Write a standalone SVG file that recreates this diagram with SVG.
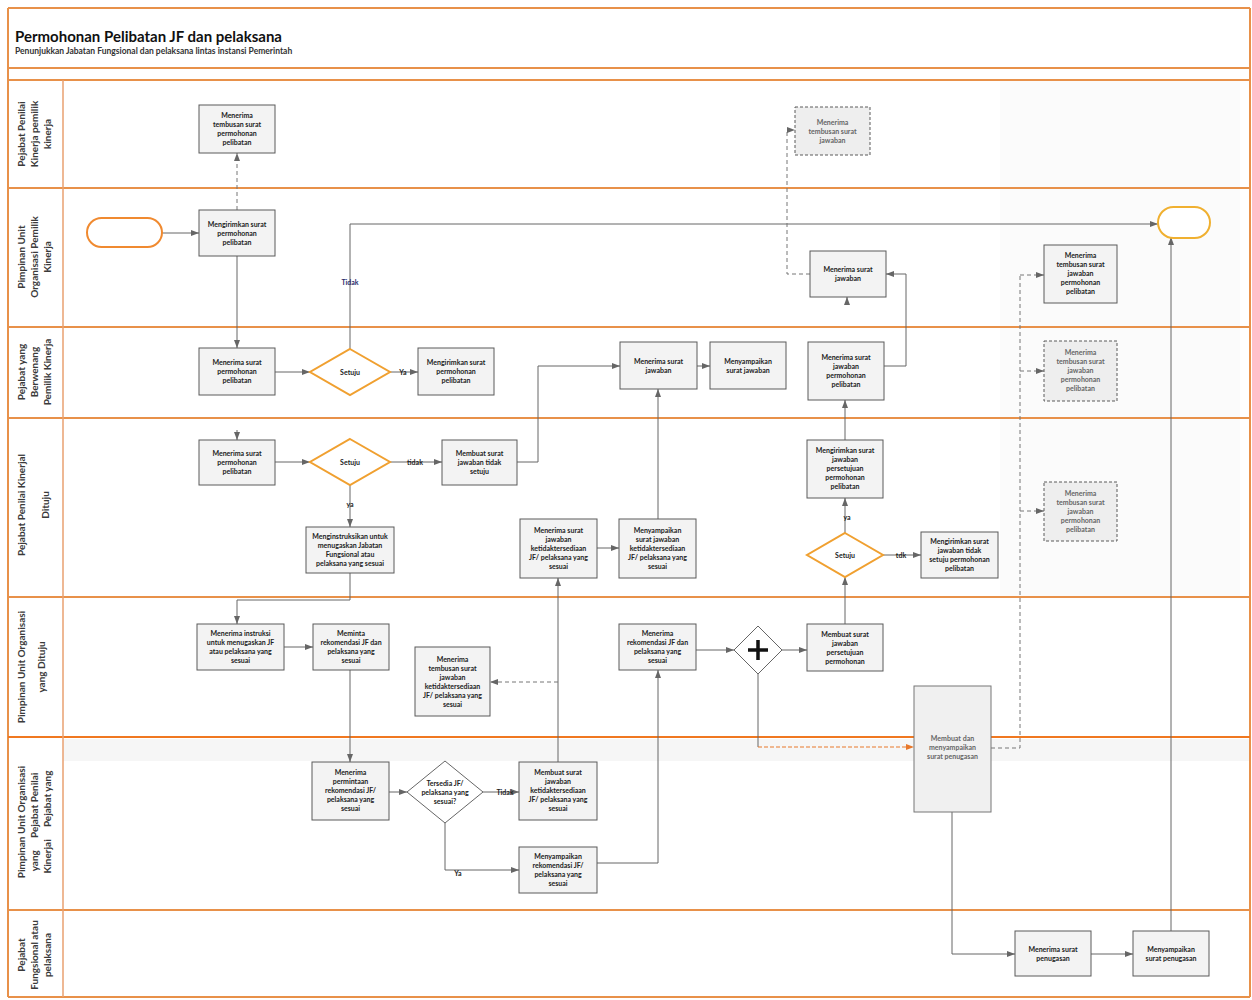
<svg xmlns="http://www.w3.org/2000/svg" width="1252" height="1000" viewBox="0 0 1252 1000">
<defs>
<marker id="arr" markerWidth="8" markerHeight="6" refX="8" refY="3" orient="auto" markerUnits="userSpaceOnUse"><path d="M0,0 L8,3 L0,6 z" fill="#666"/></marker>
<marker id="arrO" markerWidth="8" markerHeight="6" refX="8" refY="3" orient="auto" markerUnits="userSpaceOnUse"><path d="M0,0 L8,3 L0,6 z" fill="#E8782A"/></marker>
<style>
.lane{stroke:#E8914A;stroke-width:2;fill:none}
.lbl{font-family:Lato,"Liberation Sans",sans-serif;font-size:10px;font-weight:bold;fill:#3a3a3a;text-anchor:middle}
.box{fill:#f3f3f3;stroke:#5a5a5a;stroke-width:1}
.dbox{fill:#eeeeee;stroke:#5a5a5a;stroke-width:1;stroke-dasharray:3,2}
.t{font-family:Lato,"Liberation Sans",sans-serif;font-size:7px;font-weight:bold;fill:#222;text-anchor:middle}
.tl{font-family:Lato,"Liberation Sans",sans-serif;font-size:7px;font-weight:bold;fill:#666;text-anchor:middle}
.dia{fill:#fff;stroke:#F0A030;stroke-width:2}
.c{fill:none;stroke:#666;stroke-width:1;marker-end:url(#arr)}
.cn{fill:none;stroke:#666;stroke-width:1}
.cd{fill:none;stroke:#777;stroke-width:1;stroke-dasharray:4,3;marker-end:url(#arr)}
.cdn{fill:none;stroke:#777;stroke-width:1;stroke-dasharray:4,3}
.el{font-family:Lato,"Liberation Sans",sans-serif;font-size:7px;font-weight:bold;fill:#222;text-anchor:middle}
</style>
</defs>
<rect x="0" y="0" width="1252" height="1000" fill="#fff"/>
<rect x="1000" y="80" width="240" height="517" fill="#fbfbfb"/>
<rect x="63" y="739" width="1187" height="22" fill="#f6f6f6"/>

<g id="frame">
<line class="lane" x1="8" y1="8" x2="1250" y2="8"/>
<line class="lane" x1="8" y1="8" x2="8" y2="997"/>
<line class="lane" x1="1250" y1="8" x2="1250" y2="997"/>
<line class="lane" x1="8" y1="68" x2="1250" y2="68"/>
<line class="lane" x1="8" y1="80" x2="1250" y2="80"/>
<line class="lane" x1="8" y1="188" x2="1250" y2="188"/>
<line class="lane" x1="8" y1="327" x2="1250" y2="327"/>
<line class="lane" x1="8" y1="418" x2="1250" y2="418"/>
<line class="lane" x1="8" y1="597" x2="1250" y2="597"/>
<line x1="8" y1="737" x2="1250" y2="737" stroke="#F07820" stroke-width="2"/>
<line class="lane" x1="8" y1="910" x2="1250" y2="910"/>
<line class="lane" x1="8" y1="997" x2="1250" y2="997"/>
<line x1="63" y1="80" x2="63" y2="997" stroke="#E8A070" stroke-width="1.5"/>
<text x="15" y="42" font-family="Lato,'Liberation Sans',sans-serif" font-size="15" font-weight="bold" fill="#111">Permohonan Pelibatan JF dan pelaksana</text>
<text x="15" y="54" font-family="Lato,'Liberation Sans',sans-serif" font-size="8.5" font-weight="bold" fill="#333">Penunjukkan Jabatan Fungsional dan pelaksana lintas instansi Pemerintah</text>
</g>

<g id="lane-labels">
<text class="lbl" transform="translate(35,134) rotate(-90)"><tspan x="0" y="-10">Pejabat Penilai</tspan><tspan x="0" y="3">Kinerja pemilik</tspan><tspan x="0" y="16">kinerja</tspan></text>
<text class="lbl" transform="translate(35,257) rotate(-90)"><tspan x="0" y="-10">Pimpinan Unit</tspan><tspan x="0" y="3">Organisasi Pemilik</tspan><tspan x="0" y="16">Kinerja</tspan></text>
<text class="lbl" transform="translate(35,372) rotate(-90)"><tspan x="0" y="-10">Pejabat yang</tspan><tspan x="0" y="3">Berwenang</tspan><tspan x="0" y="16">Pemilik Kinerja</tspan></text>
<text class="lbl" transform="translate(35,505) rotate(-90)"><tspan x="0" y="-10">Pejabat Penilai Kinerjal</tspan><tspan x="0" y="14">Dituju</tspan></text>
<text class="lbl" transform="translate(35,667) rotate(-90)"><tspan x="0" y="-10">Pimpinan Unit Organisasi</tspan><tspan x="0" y="10">yang Dituju</tspan></text>
<text class="lbl" transform="translate(35,822) rotate(-90)"><tspan x="0" y="-10">Pimpinan Unit Organisasi</tspan><tspan x="0" y="3">yang&#160;&#160;&#160;&#160;&#160;Pejabat Penilai</tspan><tspan x="0" y="16">Kinerjai&#160;&#160;&#160;&#160;&#160;Pejabat yang</tspan></text>
<text class="lbl" transform="translate(35,955) rotate(-90)"><tspan x="0" y="-10">Pejabat</tspan><tspan x="0" y="3">Fungsional atau</tspan><tspan x="0" y="16">pelaksana</tspan></text>
</g>

<g id="connectors">
<path class="c" d="M162,233 H199"/>
<path class="cd" d="M237,210 V153"/>
<path class="c" d="M237,256 V348"/>
<path class="c" d="M275,372 H310"/>
<path class="c" d="M390,372 H418"/>
<path class="c" d="M350,349 V224 H1158"/>
<path class="c" d="M237,430 V440"/>
<path class="c" d="M275,462 H310"/>
<path class="c" d="M390,462 H442"/>
<path class="c" d="M350,485 V527"/>
<path class="c" d="M517,462 H538 V366 H620"/>
<path class="c" d="M697,366 H710"/>
<path class="c" d="M658,519 V389"/>
<path class="c" d="M350,573 V600 H237 V624"/>
<path class="c" d="M284,647 H313"/>
<path class="c" d="M350,670 V762"/>
<path class="c" d="M389,792 H407"/>
<path class="c" d="M483,792 H519"/>
<path class="c" d="M445,823 V870 H519"/>
<path class="c" d="M558,762 V578"/>
<path class="cd" d="M558,682 H490"/>
<path class="c" d="M597,548 H619"/>
<path class="c" d="M597,863 H658 V670"/>
<path class="c" d="M696,650 H734"/>
<path class="c" d="M782,650 H807"/>
<path class="cn" d="M758,674 V747"/>
<path d="M758,747 H914" fill="none" stroke="#E8782A" stroke-width="1" stroke-dasharray="4,2" marker-end="url(#arrO)"/>
<path class="c" d="M845,624 V577"/>
<path class="c" d="M845,533 V498"/>
<path class="c" d="M883,555 H921"/>
<path class="c" d="M845,440 V400"/>
<path class="c" d="M884,366 H906 V274 H886"/>
<path class="c" d="M847,305 V297"/>
<path class="cd" d="M810,274 H787 V130 H795"/>
<path class="cdn" d="M991,748 H1020 V275"/>
<path class="cd" d="M1020,275 H1044"/>
<path class="cd" d="M1020,371 H1044"/>
<path class="cd" d="M1020,511 H1044"/>
<path class="c" d="M952,812 V954 H1015"/>
<path class="c" d="M1091,954 H1133"/>
<path class="c" d="M1171,931 V237"/>
<text x="350" y="285" font-family="Lato,'Liberation Sans',sans-serif" font-size="7" font-weight="bold" fill="#2a2a6a" text-anchor="middle">Tidak</text>
<text class="el" x="403" y="375">Ya</text>
<text class="el" x="415" y="465">tidak</text>
<text class="el" x="350" y="507">ya</text>
<text class="el" x="505" y="795">Tidak</text>
<text class="el" x="458" y="876">Ya</text>
<text class="el" x="847" y="520">ya</text>
<text class="el" x="901" y="558">tdk</text>
</g>

<g id="start"><rect x="87" y="218" width="75" height="29" rx="14.5" fill="#fff" stroke="#F08A30" stroke-width="2"/></g>
<g id="end"><rect x="1158" y="207" width="52" height="31" rx="15.5" fill="#fff" stroke="#F0B030" stroke-width="2"/></g>

<g id="A1"><rect class="box" x="199" y="105" width="76" height="48"/><text class="t"><tspan x="237" y="118">Menerima</tspan><tspan x="237" y="127">tembusan surat</tspan><tspan x="237" y="136">permohonan</tspan><tspan x="237" y="145">pelibatan</tspan></text></g>
<g id="A2"><rect class="dbox" x="795" y="107" width="75" height="48"/><text class="tl"><tspan x="832.5" y="124.5">Menerima</tspan><tspan x="832.5" y="133.5">tembusan surat</tspan><tspan x="832.5" y="142.5">jawaban</tspan></text></g>
<g id="B1"><rect class="box" x="199" y="210" width="76" height="46"/><text class="t"><tspan x="237" y="226.5">Mengirimkan surat</tspan><tspan x="237" y="235.5">permohonan</tspan><tspan x="237" y="244.5">pelibatan</tspan></text></g>
<g id="B2"><rect class="box" x="810" y="251" width="76" height="46"/><text class="t"><tspan x="848" y="272">Menerima surat</tspan><tspan x="848" y="281">jawaban</tspan></text></g>
<g id="B3"><rect class="box" x="1044" y="245" width="73" height="58"/><text class="t"><tspan x="1080.5" y="258">Menerima</tspan><tspan x="1080.5" y="267">tembusan surat</tspan><tspan x="1080.5" y="276">jawaban</tspan><tspan x="1080.5" y="285">permohonan</tspan><tspan x="1080.5" y="294">pelibatan</tspan></text></g>
<g id="C1"><rect class="box" x="199" y="348" width="76" height="47"/><text class="t"><tspan x="237" y="365">Menerima surat</tspan><tspan x="237" y="374">permohonan</tspan><tspan x="237" y="383">pelibatan</tspan></text></g>
<g id="D1"><polygon class="dia" points="350,349 390,372 350,395 310,372"/><text class="t" x="350" y="375">Setuju</text></g>
<g id="C2"><rect class="box" x="418" y="348" width="76" height="47"/><text class="t"><tspan x="456" y="365">Mengirimkan surat</tspan><tspan x="456" y="374">permohonan</tspan><tspan x="456" y="383">pelibatan</tspan></text></g>
<g id="C3"><rect class="box" x="620" y="342" width="77" height="47"/><text class="t"><tspan x="658.5" y="363.5">Menerima surat</tspan><tspan x="658.5" y="372.5">jawaban</tspan></text></g>
<g id="C4"><rect class="box" x="710" y="342" width="76" height="47"/><text class="t"><tspan x="748" y="363.5">Menyampaikan</tspan><tspan x="748" y="372.5">surat jawaban</tspan></text></g>
<g id="C5"><rect class="box" x="808" y="342" width="76" height="58"/><text class="t"><tspan x="846" y="360">Menerima surat</tspan><tspan x="846" y="369">jawaban</tspan><tspan x="846" y="378">permohonan</tspan><tspan x="846" y="387">pelibatan</tspan></text></g>
<g id="C6"><rect class="dbox" x="1044" y="341" width="73" height="60"/><text class="tl"><tspan x="1080.5" y="355">Menerima</tspan><tspan x="1080.5" y="364">tembusan surat</tspan><tspan x="1080.5" y="373">jawaban</tspan><tspan x="1080.5" y="382">permohonan</tspan><tspan x="1080.5" y="391">pelibatan</tspan></text></g>
<g id="E1"><rect class="box" x="199" y="440" width="76" height="45"/><text class="t"><tspan x="237" y="456">Menerima surat</tspan><tspan x="237" y="465">permohonan</tspan><tspan x="237" y="474">pelibatan</tspan></text></g>
<g id="D2"><polygon class="dia" points="350,439 390,462 350,485 310,462"/><text class="t" x="350" y="465">Setuju</text></g>
<g id="E2"><rect class="box" x="442" y="440" width="75" height="45"/><text class="t"><tspan x="479.5" y="456">Membuat surat</tspan><tspan x="479.5" y="465">jawaban tidak</tspan><tspan x="479.5" y="474">setuju</tspan></text></g>
<g id="E3"><rect class="box" x="306" y="527" width="88" height="46"/><text class="t"><tspan x="350" y="539">Menginstruksikan untuk</tspan><tspan x="350" y="548">menugaskan Jabatan</tspan><tspan x="350" y="557">Fungsional atau</tspan><tspan x="350" y="566">pelaksana yang sesuai</tspan></text></g>
<g id="E4"><rect class="box" x="520" y="519" width="77" height="59"/><text class="t"><tspan x="558.5" y="532.5">Menerima surat</tspan><tspan x="558.5" y="541.5">jawaban</tspan><tspan x="558.5" y="550.5">ketidaktersediaan</tspan><tspan x="558.5" y="559.5">JF/ pelaksana yang</tspan><tspan x="558.5" y="568.5">sesuai</tspan></text></g>
<g id="E5"><rect class="box" x="619" y="519" width="77" height="59"/><text class="t"><tspan x="657.5" y="532.5">Menyampaikan</tspan><tspan x="657.5" y="541.5">surat jawaban</tspan><tspan x="657.5" y="550.5">ketidaktersediaan</tspan><tspan x="657.5" y="559.5">JF/ pelaksana yang</tspan><tspan x="657.5" y="568.5">sesuai</tspan></text></g>
<g id="E6"><rect class="box" x="807" y="440" width="76" height="58"/><text class="t"><tspan x="845" y="453">Mengirimkan surat</tspan><tspan x="845" y="462">jawaban</tspan><tspan x="845" y="471">persetujuan</tspan><tspan x="845" y="480">permohonan</tspan><tspan x="845" y="489">pelibatan</tspan></text></g>
<g id="D3"><polygon class="dia" points="845,533 883,555 845,577 807,555"/><text class="t" x="845" y="558">Setuju</text></g>
<g id="E7"><rect class="box" x="921" y="532" width="77" height="46"/><text class="t"><tspan x="959.5" y="544">Mengirimkan surat</tspan><tspan x="959.5" y="553">jawaban tidak</tspan><tspan x="959.5" y="562">setuju permohonan</tspan><tspan x="959.5" y="571">pelibatan</tspan></text></g>
<g id="E8"><rect class="dbox" x="1044" y="482" width="73" height="59"/><text class="tl"><tspan x="1080.5" y="495.5">Menerima</tspan><tspan x="1080.5" y="504.5">tembusan surat</tspan><tspan x="1080.5" y="513.5">jawaban</tspan><tspan x="1080.5" y="522.5">permohonan</tspan><tspan x="1080.5" y="531.5">pelibatan</tspan></text></g>
<g id="F1"><rect class="box" x="197" y="624" width="87" height="46"/><text class="t"><tspan x="240.5" y="636">Menerima instruksi</tspan><tspan x="240.5" y="645">untuk menugaskan JF</tspan><tspan x="240.5" y="654">atau pelaksana yang</tspan><tspan x="240.5" y="663">sesuai</tspan></text></g>
<g id="F2"><rect class="box" x="313" y="624" width="76" height="46"/><text class="t"><tspan x="351" y="636">Meminta</tspan><tspan x="351" y="645">rekomendasi JF dan</tspan><tspan x="351" y="654">pelaksana yang</tspan><tspan x="351" y="663">sesuai</tspan></text></g>
<g id="F3"><rect class="box" x="415" y="647" width="75" height="69"/><text class="t"><tspan x="452.5" y="661.5">Menerima</tspan><tspan x="452.5" y="670.5">tembusan surat</tspan><tspan x="452.5" y="679.5">jawaban</tspan><tspan x="452.5" y="688.5">ketidaktersediaan</tspan><tspan x="452.5" y="697.5">JF/ pelaksana yang</tspan><tspan x="452.5" y="706.5">sesuai</tspan></text></g>
<g id="F4"><rect class="box" x="619" y="624" width="77" height="46"/><text class="t"><tspan x="657.5" y="636">Menerima</tspan><tspan x="657.5" y="645">rekomendasi JF dan</tspan><tspan x="657.5" y="654">pelaksana yang</tspan><tspan x="657.5" y="663">sesuai</tspan></text></g>
<g id="G1"><polygon points="758,626 782,650 758,674 734,650" fill="#fff" stroke="#666" stroke-width="1"/><path d="M758,640 V660 M748,650 H768" stroke="#111" stroke-width="3.5"/></g>
<g id="F5"><rect class="box" x="807" y="624" width="76" height="47"/><text class="t"><tspan x="845" y="636.5">Membuat surat</tspan><tspan x="845" y="645.5">jawaban</tspan><tspan x="845" y="654.5">persetujuan</tspan><tspan x="845" y="663.5">permohonan</tspan></text></g>
<g id="F6"><rect x="914" y="686" width="77" height="126" fill="#f0f0f0" stroke="#777" stroke-width="1"/><text class="tl"><tspan x="952.5" y="741">Membuat dan</tspan><tspan x="952.5" y="750">menyampaikan</tspan><tspan x="952.5" y="759">surat penugasan</tspan></text></g>
<g id="H1"><rect class="box" x="312" y="762" width="77" height="58"/><text class="t"><tspan x="350.5" y="775">Menerima</tspan><tspan x="350.5" y="784">permintaan</tspan><tspan x="350.5" y="793">rekomendasi JF/</tspan><tspan x="350.5" y="802">pelaksana yang</tspan><tspan x="350.5" y="811">sesuai</tspan></text></g>
<g id="D4"><polygon points="445,761 483,792 445,823 407,792" fill="#fff" stroke="#666" stroke-width="1"/><text class="t"><tspan x="445" y="785.5">Tersedia JF/</tspan><tspan x="445" y="794.5">pelaksana yang</tspan><tspan x="445" y="803.5">sesuai?</tspan></text></g>
<g id="H2"><rect class="box" x="519" y="762" width="78" height="58"/><text class="t"><tspan x="558" y="775">Membuat surat</tspan><tspan x="558" y="784">jawaban</tspan><tspan x="558" y="793">ketidaktersediaan</tspan><tspan x="558" y="802">JF/ pelaksana yang</tspan><tspan x="558" y="811">sesuai</tspan></text></g>
<g id="H3"><rect class="box" x="519" y="847" width="78" height="46"/><text class="t"><tspan x="558" y="859">Menyampaikan</tspan><tspan x="558" y="868">rekomendasi JF/</tspan><tspan x="558" y="877">pelaksana yang</tspan><tspan x="558" y="886">sesuai</tspan></text></g>
<g id="I1"><rect class="box" x="1015" y="931" width="76" height="45"/><text class="t"><tspan x="1053" y="951.5">Menerima surat</tspan><tspan x="1053" y="960.5">penugasan</tspan></text></g>
<g id="I2"><rect class="box" x="1133" y="931" width="76" height="45"/><text class="t"><tspan x="1171" y="951.5">Menyampaikan</tspan><tspan x="1171" y="960.5">surat penugasan</tspan></text></g>
</svg>
